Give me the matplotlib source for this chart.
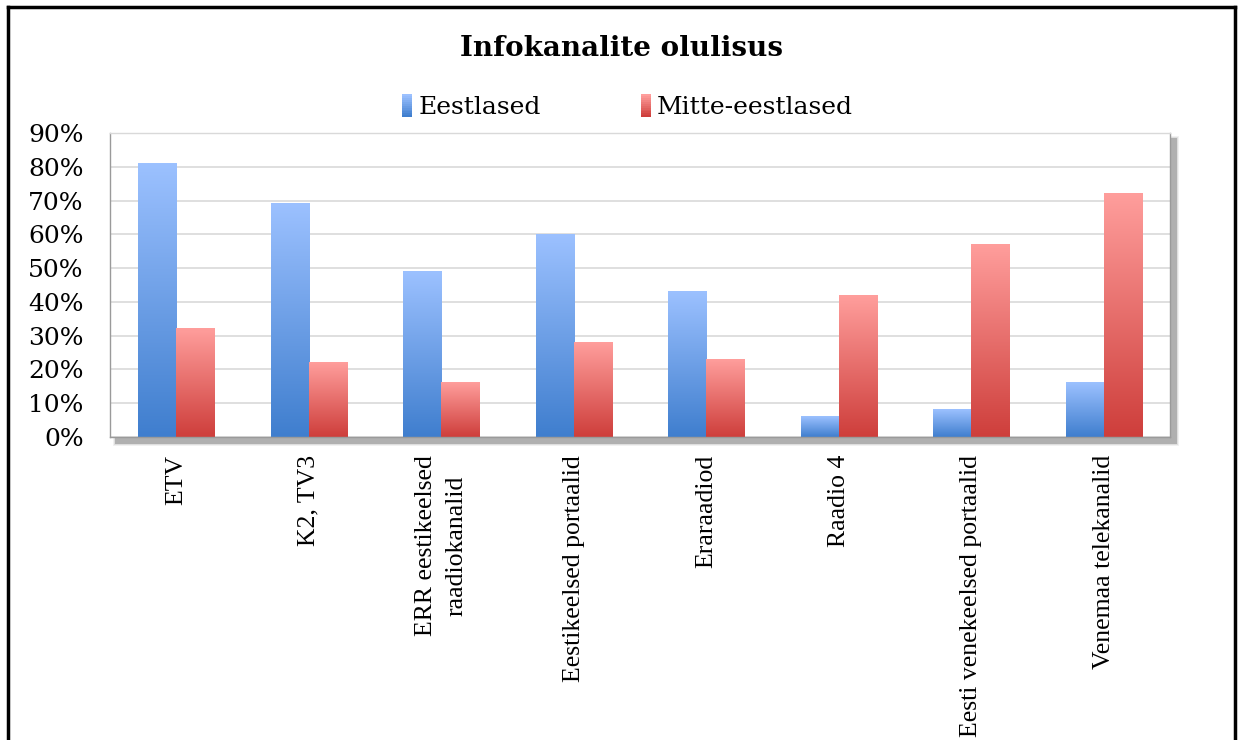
import numpy as np
import matplotlib
matplotlib.use("Agg")
import matplotlib.pyplot as plt
from matplotlib.colors import LinearSegmentedColormap
from matplotlib.patches import Rectangle
from matplotlib.lines import Line2D
from matplotlib.legend_handler import HandlerBase

kanalid = ["ETV", "K2, TV3", "ERR eestikeelsed\nraadiokanalid", "Eestikeelsed portaalid",
           "Eraraadiod", "Raadio 4", "Eesti venekeelsed portaalid", "Venemaa telekanalid"]
eestlased = [81, 69, 49, 60, 43, 6, 8, 16]
mitte_eestlased = [32, 22, 16, 28, 23, 42, 57, 72]
yticks = [0, 10, 20, 30, 40, 50, 60, 70, 80, 90]

blue = LinearSegmentedColormap.from_list("b", ["#3F7ECE", "#9CC1FF"])
red = LinearSegmentedColormap.from_list("r", ["#CE3E3B", "#FF9E9C"])
grad = np.linspace(0, 1, 256).reshape(-1, 1)

W, H = 1243, 740
fig = plt.figure(figsize=(W / 100, H / 100), dpi=100)
fig.patch.set_facecolor("white")

# plot area in pixels
L, R, T, B = 110, 1170, 133, 437
ax = fig.add_axes([L / W, 1 - B / H, (R - L) / W, (B - T) / H])

# soft shadow behind the plot area
for i, a in enumerate([0.07, 0.10, 0.13, 0.18]):
    d = 3 - i * 0.8
    fig.add_artist(Rectangle(((L + 6 - d) / W, 1 - (B + 6 + d) / H), (R - L + 2 * d) / W,
                             (B - T + 2 * d) / H, transform=fig.transFigure,
                             facecolor="#404040", edgecolor="none", alpha=a, zorder=0))
ax.set_zorder(1)
ax.set_facecolor("white")

x = np.arange(len(kanalid))
w = 0.287
for vals, cm, off in [(eestlased, blue, -w / 2), (mitte_eestlased, red, w / 2)]:
    bars = ax.bar(x + off, vals, w, color="none", zorder=2)
    for b in bars:
        x0, h = b.get_x(), b.get_height()
        ax.imshow(grad, cmap=cm, origin="lower", aspect="auto", zorder=2,
                  extent=[x0, x0 + w, 0, h], interpolation="bilinear")

ax.set_xlim(-0.5, len(kanalid) - 0.5)
ax.set_ylim(0, 90)
ax.set_yticks(yticks)
ax.set_yticklabels([f"{v}%" for v in yticks], fontfamily="DejaVu Serif", fontsize=18)
ax.set_xticks(x)
ax.set_xticklabels(kanalid, rotation=90, fontfamily="Liberation Serif", fontsize=18.5,
                   va="top", ha="center", multialignment="center", linespacing=1.45)
ax.tick_params(axis="both", length=0)
ax.tick_params(axis="x", pad=13)
ax.tick_params(axis="y", pad=19)
ax.grid(axis="y", color="#d9d9d9", linewidth=1.2, zorder=0)
ax.set_axisbelow(True)
for s in ax.spines.values():
    s.set_color("#9a9a9a")
    s.set_linewidth(1)
ax.spines["top"].set_color("#d9d9d9")


class GradHandler(HandlerBase):
    def __init__(self, cm):
        super().__init__()
        self.cm = cm

    def create_artists(self, legend, orig, xd, yd, width, height, fontsize, trans):
        n = 12
        bw = width * 0.45
        x0 = xd + width - bw
        arts = []
        for i in range(n):
            r = Rectangle((x0, yd - height * 0.15 + i * height * 1.3 / n), bw, height * 1.3 / n + 0.3,
                          facecolor=self.cm(i / (n - 1)), edgecolor="none", transform=trans)
            arts.append(r)
        return arts


h1 = Rectangle((0, 0), 1, 1)
h2 = Rectangle((0, 0), 1, 1)
fig.legend([h1, h2], ["Eestlased", "Mitte-eestlased"], loc="center", bbox_to_anchor=(0.5, 1 - 108 / H),
           ncol=2, frameon=False, prop={"family": "DejaVu Serif", "size": 18},
           handler_map={h1: GradHandler(blue), h2: GradHandler(red)},
           handlelength=0.9, handletextpad=0.25, columnspacing=3.5)

fig.text(0.5, 1 - 48 / H, "Infokanalite olulisus", ha="center", va="center",
         fontfamily="DejaVu Serif", fontweight="bold", fontsize=20)

# outer chart border
lw = 2.5
fig.add_artist(Line2D([8 / W, 8 / W], [0, 1 - 7 / H], color="black", lw=lw, transform=fig.transFigure))
fig.add_artist(Line2D([8 / W, 1235 / W], [1 - 7 / H, 1 - 7 / H], color="black", lw=lw, transform=fig.transFigure))
fig.add_artist(Line2D([1235 / W, 1235 / W], [0, 1 - 7 / H], color="black", lw=lw, transform=fig.transFigure))

fig.savefig("out.png", dpi=100)
